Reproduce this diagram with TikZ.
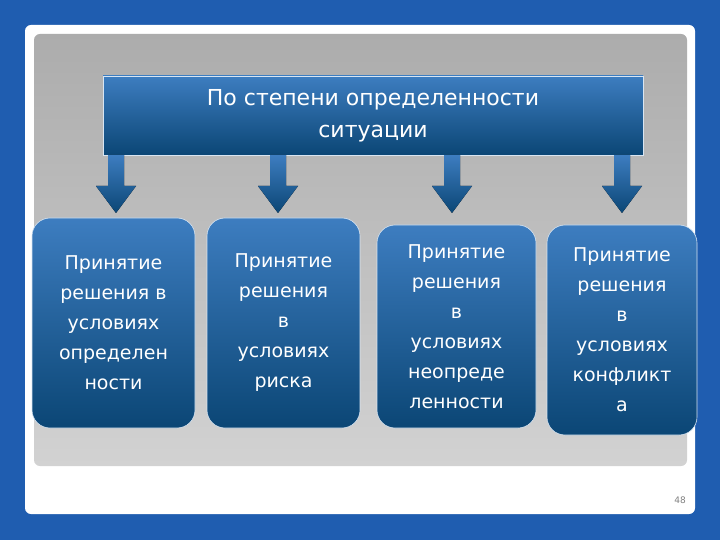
\documentclass[tikz,border=0pt]{standalone}
\usepackage{fontspec}
\setmainfont{DejaVu Sans}
\begin{document}
\begin{tikzpicture}[x=1pt,y=-1pt,
  box/.style={rounded corners=18pt, top color=boxtop, bottom color=boxbot, draw=white!80!boxtop, line width=0.6pt, text=white, align=center, font=\fontsize{19}{30}\selectfont, inner sep=0pt},
  arr/.style={top color=boxtop, bottom color=boxbot, draw=none}]
\definecolor{bg}{HTML}{1F5DB0}
\definecolor{boxtop}{HTML}{3D7DC0}
\definecolor{boxbot}{HTML}{0B4675}
\definecolor{panel}{HTML}{D2D2D2}
\useasboundingbox (0,0) rectangle (720,540);
\fill[bg] (0,0) rectangle (720,540);
\fill[white, rounded corners=6pt] (25,25) rectangle (695,514);
\shade[rounded corners=6pt, top color=gray!65, bottom color=panel] (34,34) rectangle (687,466);
\node[box, rounded corners=0pt, minimum width=540pt, minimum height=79pt, font=\fontsize{22}{32}\selectfont] (top) at (373,115.5) {По степени определенности\\ситуации};
\foreach \x/\n in {116/a1,278/a2,452/a3,622/a4}{
  \fill[arr] (\x-8,155) -- (\x+8,155) -- (\x+8,186) -- (\x+20,186) -- (\x,213) -- (\x-20,186) -- (\x-8,186) -- cycle;
  \coordinate (\n) at (\x,213);
}
\node[box, minimum width=163pt, minimum height=210pt] (b1) at (113.5,323) {Принятие\\решения в\\условиях\\определен\\ности};
\node[box, minimum width=153pt, minimum height=210pt] (b2) at (283.5,323) {Принятие\\решения\\в\\условиях\\риска};
\node[box, minimum width=159pt, minimum height=203pt] (b3) at (456.5,326.5) {Принятие\\решения\\в\\условиях\\неопреде\\ленности};
\node[box, minimum width=150pt, minimum height=210pt] (b4) at (622,330) {Принятие\\решения\\в\\условиях\\конфликт\\а};
\node[text=gray, font=\fontsize{9}{10}\selectfont] (pg) at (680,500) {48};
\end{tikzpicture}
\end{document}
